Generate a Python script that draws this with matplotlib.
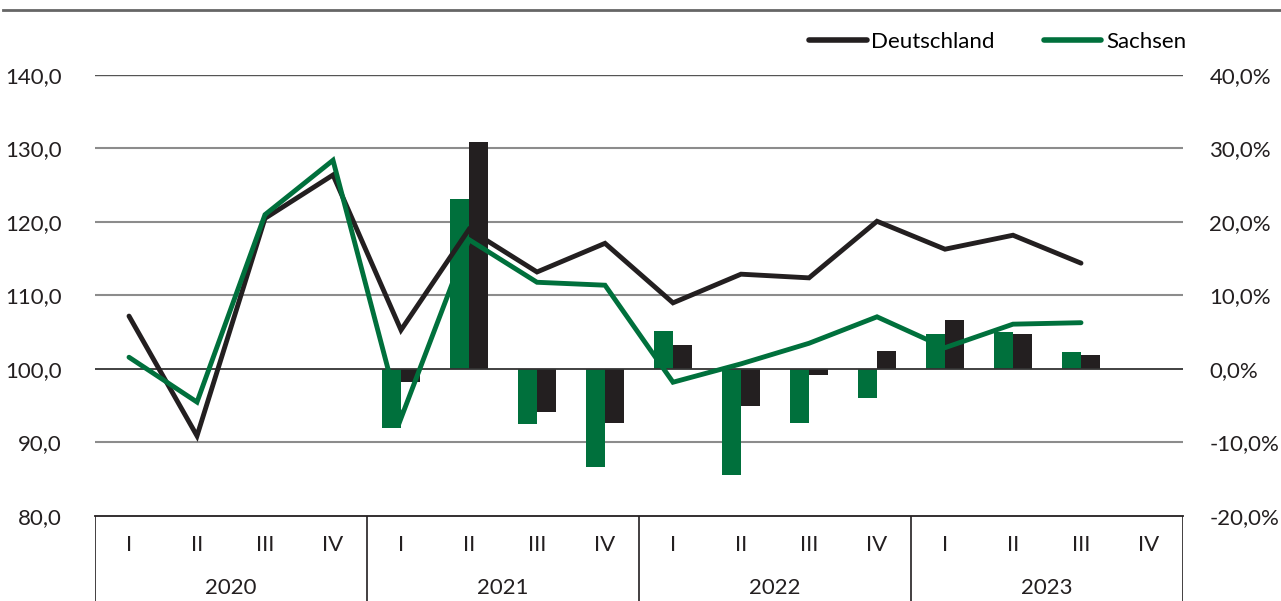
import matplotlib
matplotlib.rcParams.update({'font.size': 16})
import matplotlib.pyplot as plt
from matplotlib.lines import Line2D
import numpy as np

plt.rcParams['font.family'] = ['Lato', 'DejaVu Sans']

# quarters 2020 I .. 2023 IV
quarters = ['I', 'II', 'III', 'IV'] * 4
years = ['2020', '2021', '2022', '2023']

# index values (left axis)
deutschland = [107.2, 90.9, 120.5, 126.4,
               105.3, 119.0, 113.2, 117.1,
               109.0, 112.9, 112.4, 120.1,
               116.3, 118.2, 114.4]
sachsen = [101.6, 95.5, 121.0, 128.4,
           93.3, 117.6, 111.8, 111.4,
           98.2, 100.7, 103.5, 107.1,
           102.9, 106.1, 106.3]

# change vs. previous year in % (right axis), from 2021 I
bar_sachsen = [-8.0, 23.1, -7.5, -13.3,
               5.2, -14.4, -7.3, -4.0,
               4.7, 5.0, 2.3]
bar_deutschland = [-1.8, 30.9, -5.8, -7.4,
                   3.3, -5.1, -0.8, 2.5,
                   6.7, 4.7, 1.9]

black = '#231f20'
green = '#00703c'

W, H = 1281, 601
fig = plt.figure(figsize=(W / 100, H / 100), dpi=100)
left, right = 95 / W, 1183 / W
bottom, top = (H - 516) / H, (H - 75) / H

ax = fig.add_axes([left, bottom, right - left, top - bottom])
ax2 = ax.twinx()
ax.set_zorder(ax2.get_zorder() + 1)
ax.patch.set_visible(False)

x = np.arange(len(quarters))
xb = np.arange(4, 4 + len(bar_sachsen))
bw = 0.28

### gridlines + bars on the right axis (behind the lines)
for v in [-10, 10, 20, 30]:
    ax2.axhline(v, color='#8c8c8c', lw=1.5, zorder=0)
ax2.axhline(40, color='#555555', lw=1.0, zorder=0)
ax2.bar(xb - bw / 2, bar_sachsen, width=bw, color=green, zorder=2)
ax2.bar(xb + bw / 2, bar_deutschland, width=bw, color=black, zorder=2)
ax2.axhline(0, color='#333333', lw=1.3, zorder=3)

ax.plot(x[:len(deutschland)], deutschland, color=black, lw=3.5, label='Deutschland',
        solid_capstyle='round', solid_joinstyle='miter')
ax.plot(x[:len(sachsen)], sachsen, color=green, lw=3.5, label='Sachsen',
        solid_capstyle='round', solid_joinstyle='miter')

ax.set_xlim(-0.5, 15.5)
ax.set_ylim(80, 140)
ax2.set_ylim(-20, 40)
ax.set_yticks(np.arange(80, 141, 10))
ax.set_yticklabels([('%.1f' % v).replace('.', ',') for v in np.arange(80, 141, 10)])
ax2.set_yticks(np.arange(-20, 41, 10))
ax2.set_yticklabels([('%.1f%%' % v).replace('.', ',') for v in np.arange(-20, 41, 10)])
ax.tick_params(axis='y', length=0, pad=24, labelcolor='#231f20')
ax2.tick_params(axis='y', length=0, pad=19, labelcolor='#231f20')
ax.set_xticks([])

for a in (ax, ax2):
    for s in ['top', 'left', 'right', 'bottom']:
        a.spines[s].set_visible(False)
ax.axhline(80, color=black, lw=1.3, clip_on=False)

### legend
handles = [Line2D([], [], color=black, lw=4, solid_capstyle='round'),
           Line2D([], [], color=green, lw=4, solid_capstyle='round')]
fig.legend(handles, ['Deutschland', 'Sachsen'], loc='center right',
           bbox_to_anchor=(1186 / W, 1 - 42 / H), ncol=2, frameon=False,
           handlelength=2.6, handletextpad=0.2, columnspacing=2.2,
           borderpad=0, borderaxespad=0, fontsize=16)

### category axis below the plot
axc = fig.add_axes([left, 0, right - left, bottom])
axc.set_xlim(-0.5, 15.5)
axc.set_ylim(0, 1)
axc.axis('off')
for b in [-0.5, 3.5, 7.5, 11.5, 15.5]:
    axc.axvline(b, color=black, lw=1.2)
for i, q in enumerate(quarters):
    axc.text(i, (H - 545) / 85, q, ha='center', va='center', fontsize=16, color='#231f20')
for j, y in enumerate(years):
    axc.text(4 * j + 1.5, (H - 588) / 85, y, ha='center', va='center', fontsize=16, color='#231f20')

### top rule
fig.add_artist(Line2D([3 / W, 1], [1 - 10 / H, 1 - 10 / H], color='#666666', lw=2))

fig.savefig('out.png', dpi=100)
